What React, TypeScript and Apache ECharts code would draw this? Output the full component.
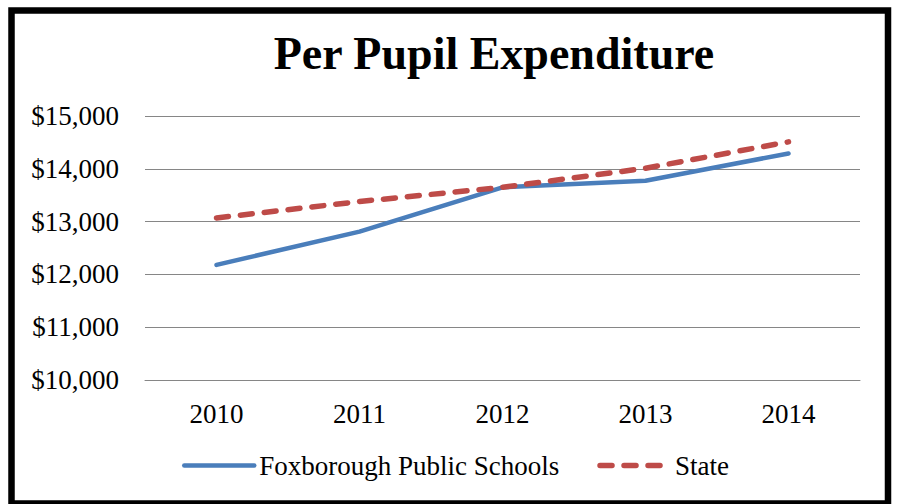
import React, { useEffect, useRef } from "react";
import * as echarts from "echarts";

const years = ["2010", "2011", "2012", "2013", "2014"];
const foxborough = [12180, 12810, 13650, 13775, 14290];
const state = [13070, 13380, 13650, 14010, 14510];
const titleText = "Per Pupil Expenditure";
const seriesNames = ["Foxborough Public Schools", "State"];

const FONT = "Liberation Serif";
const BLUE = "#4a7ebb";
const RED = "#be4b48";

export default function App() {
  const ref = useRef<HTMLDivElement>(null);
  useEffect(() => {
    if (!ref.current) return;
    const chart = echarts.init(ref.current, undefined, { renderer: "svg" });
    chart.setOption({
      animation: false,
      backgroundColor: "#ffffff",
      textStyle: { fontFamily: FONT },
      title: {
        text: titleText,
        left: 494,
        top: 30,
        padding: 0,
        textAlign: "center",
        textStyle: {
          fontFamily: FONT,
          fontSize: 46,
          fontWeight: "bold",
          color: "#000000",
        },
      },
      graphic: [
        {
          type: "rect",
          shape: { x: 11.5, y: 10.5, width: 876.5, height: 493 },
          style: { fill: "none", stroke: "#000000", lineWidth: 6.5 },
          z: 100,
        },
      ],
      legend: {
        left: 182,
        top: 452,
        padding: 0,
        itemWidth: 70,
        itemHeight: 14,
        itemGap: 38,
        itemStyle: { opacity: 0 },
        textStyle: { fontFamily: FONT, fontSize: 27, color: "#000000" },
        data: [
          { name: seriesNames[0], lineStyle: { width: 4.5, color: BLUE, cap: "round" } },
          {
            name: seriesNames[1],
            lineStyle: { width: 5.5, color: RED, type: [12, 12], cap: "round" },
          },
        ],
      },
      grid: { left: 145, right: 38, top: 116, bottom: 124, containLabel: false },
      xAxis: {
        type: "category",
        data: years,
        boundaryGap: true,
        axisLine: { show: true, lineStyle: { color: "#868686", width: 1 } },
        axisTick: { show: false },
        axisLabel: {
          margin: 20,
          fontFamily: FONT,
          fontSize: 27,
          color: "#000000",
        },
      },
      yAxis: {
        type: "value",
        min: 10000,
        max: 15000,
        interval: 1000,
        axisLine: { show: false },
        axisTick: { show: false },
        splitLine: { lineStyle: { color: "#868686", width: 1 } },
        axisLabel: {
          margin: 26,
          fontFamily: FONT,
          fontSize: 27,
          color: "#000000",
          formatter: (v: number) => "$" + v.toLocaleString("en-US"),
        },
      },
      series: [
        {
          name: seriesNames[0],
          type: "line",
          data: foxborough,
          symbol: "none",
          lineStyle: { color: BLUE, width: 4.5, cap: "round", join: "round" },
          itemStyle: { color: BLUE },
        },
        {
          name: seriesNames[1],
          type: "line",
          data: state,
          symbol: "none",
          lineStyle: {
            color: RED,
            width: 5.5,
            type: [12, 12],
            cap: "round",
            join: "round",
          },
          itemStyle: { color: RED },
        },
      ],
    });
    return () => chart.dispose();
  }, []);
  return (
    <div
      ref={ref}
      style={{ position: "absolute", left: 0, top: 0, width: 898, height: 504 }}
    />
  );
}
